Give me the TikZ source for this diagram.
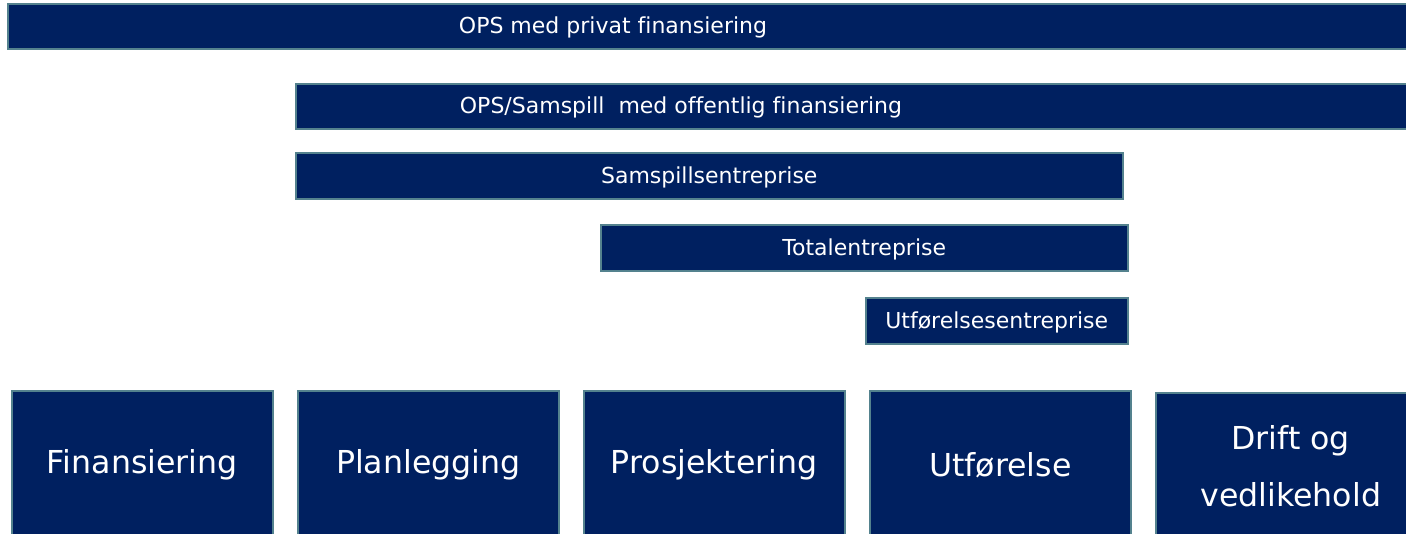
\documentclass[tikz,border=0pt]{standalone}
\usepackage{fontspec}
\setmainfont[Ligatures=NoCommon]{DejaVu Sans}
\definecolor{navy}{RGB}{0,32,96}
\definecolor{edge}{RGB}{84,130,142}
\begin{document}
\begin{tikzpicture}[x=1pt,y=-1pt,
  bar/.style={draw=edge, fill=navy, line width=1.5pt, rectangle, anchor=north west, inner sep=0pt, text=white, font=\fontsize{22}{26}\selectfont},
  bartext/.style={text=white, font=\fontsize{22}{26}\selectfont, inner sep=0pt},
  phase/.style={draw=edge, fill=navy, line width=1.5pt, rectangle, anchor=north west, inner sep=0pt, minimum width=261pt, minimum height=148pt, text=white, align=center, font=\fontsize{31.6}{57}\selectfont}]
\useasboundingbox (0,0) rectangle (1406,533);
\fill[white] (0,0) rectangle (1406,533);
% bars
\node[bar, minimum width=1405pt, minimum height=45pt] (b1) at (7,3) {};
\node[bartext] (t1) at (613,27) {OPS med privat finansiering};
\node[bar, minimum width=1117pt, minimum height=45pt] (b2) at (295,83) {};
\node[bartext] (t2) at (681,107) {OPS/Samspill\ \ med offentlig finansiering};
\node[bar, minimum width=827pt, minimum height=46pt, text depth=1pt] (b3) at (295,152) {Samspillsentreprise};
\node[bar, minimum width=527pt, minimum height=46pt, text depth=1pt] (b4) at (600,224) {Totalentreprise};
\node[bar, minimum width=262pt, minimum height=46pt, text depth=1pt] (b5) at (865,297) {Utførelsesentreprise};
% phases
\node[phase] (p1) at (11,390) {Finansiering};
\node[phase] (p2) at (297,390) {Planlegging};
\node[phase] (p3) at (583,390) {Prosjektering};
\node[phase] (p4) at (869,390) {Utførelse};
\node[phase, minimum width=270pt, minimum height=146pt] (p5) at (1155,392) {Drift og\\vedlikehold};
\end{tikzpicture}
\end{document}
